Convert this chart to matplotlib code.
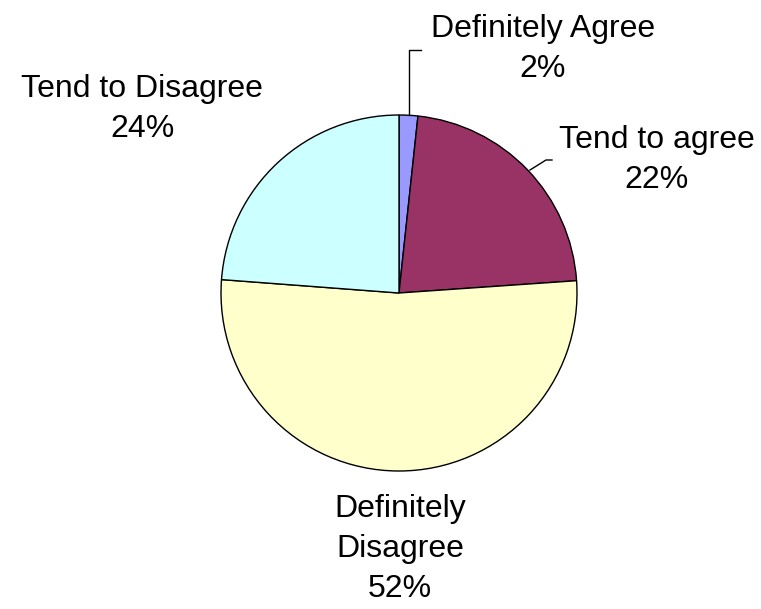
import matplotlib
matplotlib.use("Agg")
import matplotlib.pyplot as plt

labels = ["Definitely Agree", "Tend to agree", "Definitely\nDisagree", "Tend to Disagree"]
values = [1.7, 22.2, 52.3, 23.8]
pct_labels = ["2%", "22%", "52%", "24%"]
colors = ["#9999FF", "#993366", "#FFFFCC", "#CCFFFF"]

W, H = 761, 609
fig = plt.figure(figsize=(W / 100, H / 100), dpi=100)
ax = fig.add_axes([0, 0, 1, 1])

def py(y):
    # pixel row -> data y
    return H - y

ax.pie(values, colors=colors, startangle=90, counterclock=False,
       center=(399, py(293)), radius=178,
       wedgeprops=dict(edgecolor="black", linewidth=1.0))
ax.set_xlim(0, W)
ax.set_ylim(0, H)
ax.set_aspect("equal")
ax.axis("off")

font = dict(family="Liberation Sans", fontsize=23, color="black",
            ha="center", va="center", linespacing=1.43)

# label text positions (pixels)
text_pos = [(543, 49), (657, 160), (400, 549), (142, 109)]
for lab, pct, (x, y) in zip(labels, pct_labels, text_pos):
    ax.text(x, py(y), lab + "\n" + pct, **font)

# leader lines
ax.plot([409, 409, 421], [py(115), py(50), py(50)], color="black", lw=1)
ax.plot([530, 546, 552], [py(170), py(160), py(160)], color="black", lw=1)

fig.savefig("out.png", dpi=100)
